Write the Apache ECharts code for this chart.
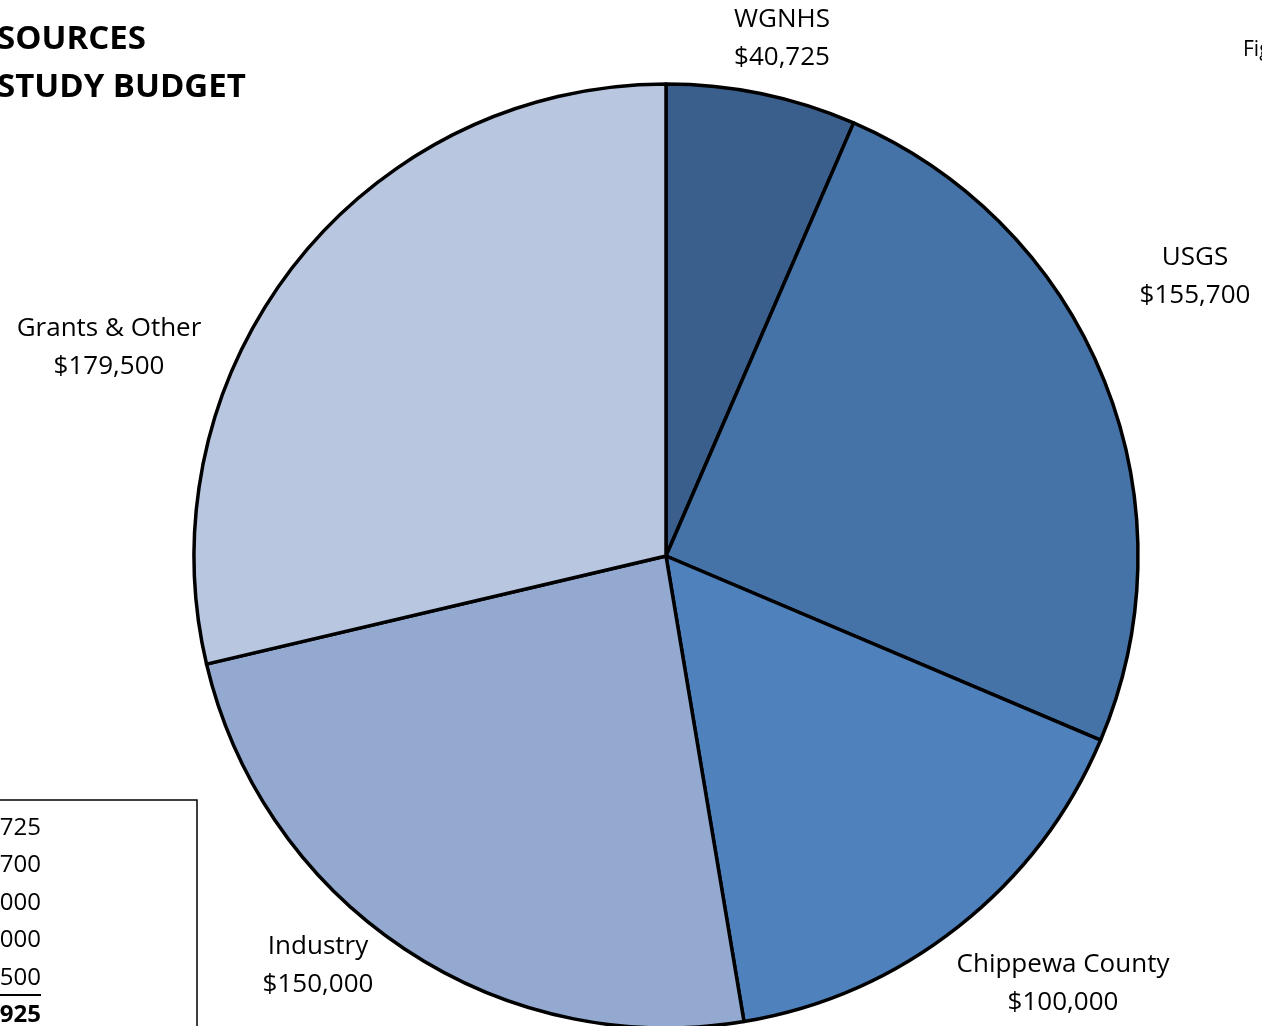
<!DOCTYPE html>
<html>
<head>
<meta charset="utf-8">
<script src="https://cdn.jsdelivr.net/npm/echarts@6/dist/echarts.min.js"></script>
<style>
html,body{margin:0;padding:0;background:#fff;}
#chart{width:1262px;height:1026px;}
</style>
</head>
<body>
<div id="chart"></div>
<script>
// Data
var categories = ['WGNHS', 'USGS', 'Chippewa County', 'Industry', 'Grants & Other'];
var amounts = [40725, 155700, 100000, 150000, 179500];
var sliceColors = ['#3B5F8D', '#4573A8', '#4F81BD', '#93A9CF', '#B9C6E0'];
var titleLines = ['SOURCES', 'STUDY BUDGET'];

// Label placement (layout, not data)
var labelX = [782, 1195, 1063, 318, 109];
var labelY = [39, 277, 984, 966, 348];

function money(v) {
  return '$' + v.toString().replace(/\B(?=(\d{3})+(?!\d))/g, ',');
}
var total = amounts.reduce(function (a, b) { return a + b; }, 0);

var FONT = '"Open Sans", "Noto Sans", sans-serif';
var chart = echarts.init(document.getElementById('chart'), null, { renderer: 'canvas' });

var tableTexts = [];
var rowY = [828, 865, 903, 940, 978, 1015];
var tableVals = amounts.concat([total]);
tableVals.forEach(function (v, i) {
  tableTexts.push({
    type: 'text',
    x: 41, y: rowY[i],
    style: {
      text: money(v),
      font: (i === tableVals.length - 1 ? 'bold ' : '') + '24px ' + FONT,
      fill: '#000',
      align: 'right',
      verticalAlign: 'middle'
    }
  });
});

var option = {
  backgroundColor: '#ffffff',
  animation: false,
  graphic: [
    { type: 'text', x: -3, y: 40, style: { text: titleLines[0], font: 'bold 33px ' + FONT, fill: '#000', verticalAlign: 'middle' } },
    { type: 'text', x: -3, y: 88, style: { text: titleLines[1], font: 'bold 33px ' + FONT, fill: '#000', verticalAlign: 'middle' } },
    { type: 'text', x: 1243, y: 50, style: { text: 'Figure', font: '21px ' + FONT, fill: '#000', verticalAlign: 'middle' } },
    { type: 'rect', shape: { x: -10, y: 800, width: 207, height: 240 }, style: { fill: 'none', stroke: '#000', lineWidth: 1.5 } },
    { type: 'line', shape: { x1: 0, y1: 995, x2: 41, y2: 995 }, style: { stroke: '#000', lineWidth: 2 } }
  ].concat(tableTexts),
  series: [{
    type: 'pie',
    center: [666, 556],
    radius: [0, 472],
    startAngle: 90,
    clockwise: true,
    data: categories.map(function (c, i) {
      return { name: c, value: amounts[i], itemStyle: { color: sliceColors[i] } };
    }),
    itemStyle: { borderColor: '#000', borderWidth: 3.5 },
    emphasis: { disabled: true },
    avoidLabelOverlap: false,
    label: {
      show: true,
      position: 'outside',
      overflow: 'none',
      formatter: function (p) { return p.name + '\n' + money(p.value); },
      fontFamily: FONT,
      fontSize: 26,
      lineHeight: 38,
      color: '#000',
      align: 'center'
    },
    labelLine: { show: false },
    labelLayout: function (params) {
      var i = params.dataIndex;
      return { x: labelX[i], y: labelY[i], align: 'center', verticalAlign: 'middle' };
    }
  }]
};
chart.setOption(option);
</script>
</body>
</html>
